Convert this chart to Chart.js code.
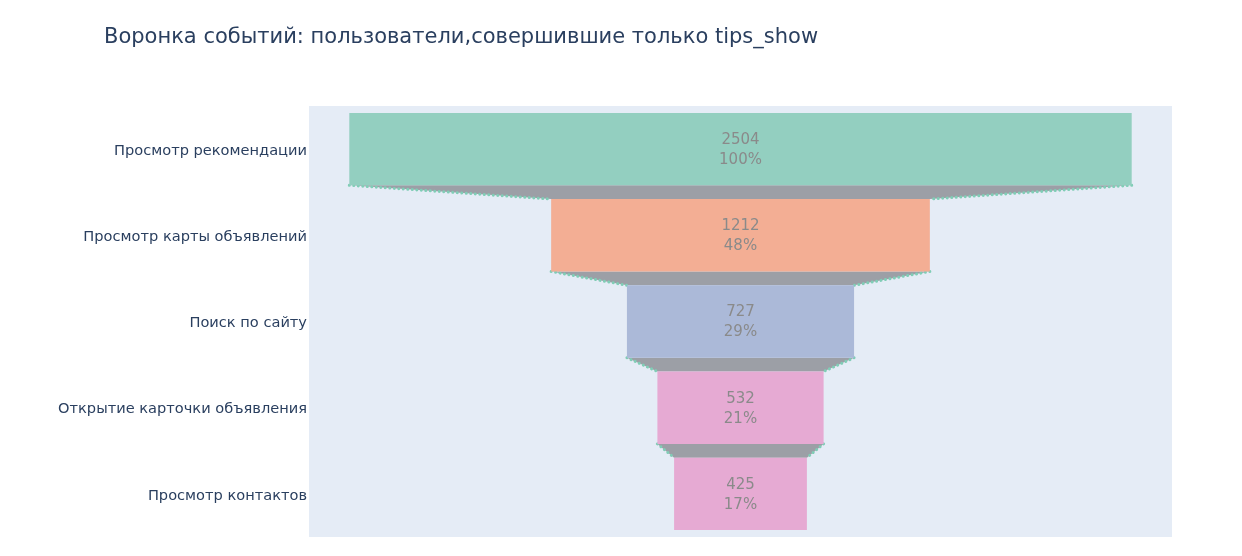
<!DOCTYPE html>
<html>
<head>
<meta charset="utf-8">
<script src="https://cdn.jsdelivr.net/npm/chart.js@4.4.1/dist/chart.umd.min.js"></script>
<style>
html,body{margin:0;padding:0;background:#fff;}
#wrap{width:1242px;height:556px;position:relative;}
</style>
</head>
<body>
<div id="wrap"><canvas id="c" width="1242" height="556"></canvas></div>
<script>
const chartTitle = "Воронка событий: пользователи,совершившие только tips_show";
const stages = ["Просмотр рекомендации", "Просмотр карты объявлений", "Поиск по сайту", "Открытие карточки объявления", "Просмотр контактов"];
const users = [2504, 1212, 727, 532, 425];
const barColors = ["#93cfc0", "#f3ae94", "#abb9d8", "#e6aad3", "#e6aad3"];

const FONT = "'DejaVu Sans', Verdana, sans-serif";

const bgPlugin = {
  id: 'bg',
  beforeDraw(chart) {
    const {ctx, chartArea: a} = chart;
    ctx.save();
    ctx.fillStyle = '#e5ecf6';
    ctx.fillRect(a.left, a.top, a.right - a.left, a.bottom - a.top);
    ctx.restore();
  }
};

const connectorPlugin = {
  id: 'connectors',
  beforeDatasetsDraw(chart) {
    const ctx = chart.ctx;
    const bars = chart.getDatasetMeta(0).data;
    ctx.save();
    for (let i = 0; i < bars.length - 1; i++) {
      const p1 = bars[i].getProps(['x','y','base','height'], true);
      const p2 = bars[i+1].getProps(['x','y','base','height'], true);
      const l1 = Math.min(p1.x, p1.base), r1 = Math.max(p1.x, p1.base);
      const l2 = Math.min(p2.x, p2.base), r2 = Math.max(p2.x, p2.base);
      const yb = p1.y + p1.height / 2;
      const yt = p2.y - p2.height / 2;
      ctx.fillStyle = '#9c9fa6';
      ctx.beginPath();
      ctx.moveTo(l1, yb); ctx.lineTo(r1, yb); ctx.lineTo(r2, yt); ctx.lineTo(l2, yt); ctx.closePath();
      ctx.fill();
      ctx.strokeStyle = '#80cdb6';
      ctx.lineWidth = 3;
      ctx.setLineDash([0.01, 4.5]);
      ctx.lineCap = 'round';
      ctx.beginPath();
      ctx.moveTo(l1, yb); ctx.lineTo(l2, yt);
      ctx.moveTo(r1, yb); ctx.lineTo(r2, yt);
      ctx.stroke();
    }
    ctx.restore();
  }
};

const labelPlugin = {
  id: 'labels',
  afterDatasetsDraw(chart) {
    const ctx = chart.ctx;
    const bars = chart.getDatasetMeta(0).data;
    ctx.save();
    ctx.fillStyle = '#8a8a8a';
    ctx.font = '15px ' + FONT;
    ctx.textAlign = 'center';
    ctx.textBaseline = 'middle';
    bars.forEach((b, i) => {
      const p = b.getProps(['x','y','base'], true);
      const cx = (p.x + p.base) / 2;
      ctx.fillText(String(users[i]), cx, p.y - 9);
      ctx.fillText(Math.round(users[i] / users[0] * 100) + '%', cx, p.y + 11);
    });
    ctx.restore();
  }
};

const titlePlugin = {
  id: 'ttl',
  afterDraw(chart) {
    const ctx = chart.ctx;
    ctx.save();
    ctx.fillStyle = '#2a3f5f';
    ctx.font = '21px ' + FONT;
    ctx.textAlign = 'left';
    ctx.textBaseline = 'middle';
    ctx.fillText(chartTitle, 104, 38);
    ctx.restore();
  }
};

new Chart(document.getElementById('c'), {
  type: 'bar',
  data: {
    labels: stages,
    datasets: [{
      data: users.map(v => [-v / 2, v / 2]),
      backgroundColor: barColors,
      borderWidth: 0,
      barPercentage: 0.84,
      categoryPercentage: 1.0
    }]
  },
  options: {
    indexAxis: 'y',
    responsive: false,
    animation: false,
    layout: { padding: { left: 0, top: 106, right: 70, bottom: 19 } },
    plugins: { legend: { display: false }, tooltip: { enabled: false }, title: { display: false } },
    scales: {
      x: { display: false, min: -1381, max: 1381 },
      y: {
        grid: { display: false, drawTicks: false },
        border: { display: false },
        ticks: { color: '#2a3f5f', font: { family: FONT, size: 14.6 }, padding: 2, labelOffset: 2 },
        afterFit(scale) { scale.width = 309; }
      }
    }
  },
  plugins: [bgPlugin, connectorPlugin, labelPlugin, titlePlugin]
});
</script>
</body>
</html>
